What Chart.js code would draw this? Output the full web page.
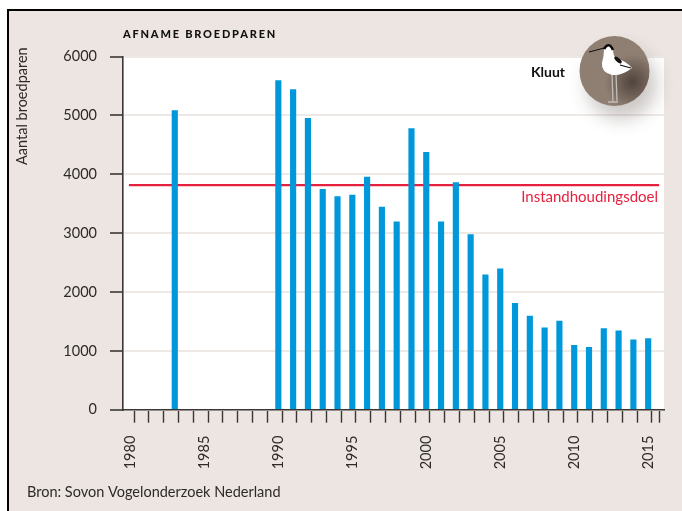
<!DOCTYPE html>
<html><head><meta charset="utf-8">
<style>
html,body{margin:0;padding:0;background:#fff;width:682px;height:511px;overflow:hidden}
#panel{position:absolute;left:7px;top:9px;width:675px;height:502px;box-sizing:border-box;border-left:2.5px solid #000;border-top:2.5px solid #000;background:#ECE5E2}
#wrap{position:absolute;left:0;top:0;width:682px;height:511px}
</style>
<script src="https://cdn.jsdelivr.net/npm/chart.js@4"></script>
</head><body>
<div id="panel"></div>
<div id="wrap"><canvas id="c" width="682" height="511"></canvas></div>
<script>
const years = [1983,1990,1991,1992,1993,1994,1995,1996,1997,1998,1999,2000,2001,2002,2003,2004,2005,2006,2007,2008,2009,2010,2011,2012,2013,2014,2015];
const pairs = [5080,5590,5440,4950,3745,3620,3645,3950,3440,3190,4775,4370,3190,3860,2975,2290,2395,1805,1590,1390,1505,1095,1060,1380,1340,1185,1210];
const targetValue = 3815;
const targetRange = [1979.9,2015.74];
const yTicks = [0,1000,2000,3000,4000,5000,6000];
const labelYears = [1980,1985,1990,1995,2000,2005,2010,2015];
const titleText = 'AFNAME BROEDPAREN';
const yTitle = 'Aantal broedparen';
const speciesText = 'Kluut';
const targetText = 'Instandhoudingsdoel';
const sourceText = 'Bron: Sovon Vogelonderzoek Nederland';

const FONT = 'Lato';
const AXIS = '#3a3634', TEXT = '#2e2a28', RED = '#E6213F';

const panelPlugin = {
  id:'panel',
  beforeDraw(ch){
    const {ctx,chartArea:a}=ch;
    ctx.save();ctx.fillStyle='#fff';ctx.fillRect(a.left,a.top,a.right-a.left,a.bottom-a.top);ctx.restore();
  }
};
const textPlugin = {
  id:'texts',
  afterDraw(ch){
    const ctx=ch.ctx;
    ctx.save();
    ctx.textBaseline='alphabetic';ctx.textAlign='left';
    ctx.fillStyle='#111';ctx.font='900 11px '+FONT;
    if('letterSpacing' in ctx) ctx.letterSpacing='1.8px';
    ctx.fillText(titleText,123,38);
    if('letterSpacing' in ctx) ctx.letterSpacing='0px';
    ctx.save();ctx.translate(27,165);ctx.rotate(-Math.PI/2);
    ctx.fillStyle=TEXT;ctx.font='14.5px '+FONT;ctx.fillText(yTitle,0,0);ctx.restore();
    ctx.fillStyle='#111';ctx.font='bold 14px '+FONT;ctx.fillText(speciesText,531,77);
    ctx.fillStyle=RED;ctx.font='15px '+FONT;ctx.textAlign='right';ctx.fillText(targetText,658,202);
    ctx.fillStyle=TEXT;ctx.font='14.5px '+FONT;ctx.textAlign='left';ctx.fillText(sourceText,27,497);
    const cx=614.5,cy=71,r=35;
    ctx.save();
    ctx.shadowColor='rgba(70,55,45,.28)';ctx.shadowBlur=18;ctx.shadowOffsetX=7;ctx.shadowOffsetY=13;
    ctx.fillStyle='#8F7F73';ctx.beginPath();ctx.arc(cx,cy,r,0,Math.PI*2);ctx.fill();ctx.restore();
    const g=ctx.createRadialGradient(cx+18,cy+11,2,cx+18,cy+11,28);
    g.addColorStop(0,'rgba(60,48,42,.7)');g.addColorStop(1,'rgba(60,48,42,0)');
    ctx.save();ctx.beginPath();ctx.arc(cx,cy,r,0,Math.PI*2);ctx.clip();ctx.fillStyle=g;ctx.fillRect(cx-r,cy-r,2*r,2*r);ctx.restore();
    ctx.strokeStyle='#c4bdb8';ctx.lineWidth=1.3;
    ctx.beginPath();ctx.moveTo(612,74);ctx.lineTo(613,102);ctx.moveTo(616,74);ctx.lineTo(617,101);ctx.moveTo(608,102);ctx.lineTo(618,102);ctx.stroke();
    ctx.fillStyle='#fff';
    ctx.beginPath();ctx.moveTo(604,49);ctx.quadraticCurveTo(609,42,613,49);ctx.quadraticCurveTo(613,56,616,58);
    ctx.quadraticCurveTo(626,61,632,68);ctx.quadraticCurveTo(622,76,612,75);ctx.quadraticCurveTo(601,72,602,63);ctx.quadraticCurveTo(604,56,604,49);ctx.fill();
    ctx.strokeStyle='#0c0c0c';ctx.lineWidth=2.6;ctx.beginPath();ctx.moveTo(604,49);ctx.quadraticCurveTo(609,41,613,50);ctx.stroke();
    ctx.lineWidth=1;ctx.beginPath();ctx.moveTo(604,48);ctx.quadraticCurveTo(597,50,589,52);ctx.stroke();
    ctx.fillStyle='#111';ctx.beginPath();ctx.ellipse(618,60,4.5,2,.7,0,7);ctx.fill();
    ctx.lineWidth=1.1;ctx.beginPath();ctx.moveTo(620,65);ctx.lineTo(631,68);ctx.stroke();
    ctx.restore();
  }
};

new Chart(document.getElementById('c'),{
  type:'bar',
  data:{datasets:[
    {type:'line',data:targetRange.map(x=>({x,y:targetValue})),borderColor:RED,borderWidth:2.4,pointRadius:0,tension:0,order:1},
    {type:'bar',data:years.map((x,i)=>({x,y:pairs[i]})),backgroundColor:'#0098DA',barThickness:5.5,order:0}
  ]},
  options:{
    responsive:false,animation:false,
    layout:{padding:{left:0,top:56.5,right:18,bottom:0}},
    plugins:{legend:{display:false},title:{display:false},tooltip:{enabled:false}},
    scales:{
      x:{type:'linear',offset:false,min:1979.5,max:2016.07,
        afterBuildTicks(s){const t=[];for(let v=1979.5;v<=2015.5;v+=.5)t.push({value:v});s.ticks=t;},
        afterFit(s){s.height=101.3;s.paddingLeft=0;s.paddingRight=0;},
        border:{color:AXIS,width:1.6},
        grid:{drawOnChartArea:false,tickLength:13,tickWidth:1.4,
          tickColor:c=>(c.tick&&Number.isInteger(c.tick.value))?'rgba(0,0,0,0)':AXIS},
        ticks:{autoSkip:false,minRotation:90,maxRotation:90,padding:13,color:TEXT,font:{family:FONT,size:14.5},
          callback:v=>labelYears.includes(v)?String(v):''}
      },
      y:{min:0,max:6000,
        afterBuildTicks(s){s.ticks=yTicks.map(value=>({value}));},
        afterFit(s){s.width=123;},
        border:{color:AXIS,width:1.6},
        grid:{color:'#EFE9E6',lineWidth:2,tickLength:13,tickColor:AXIS,tickWidth:1.6},
        ticks:{padding:13,color:TEXT,font:{family:FONT,size:14.5},callback:v=>String(v)}
      }
    }
  },
  plugins:[panelPlugin,textPlugin]
});
</script>
</body></html>
